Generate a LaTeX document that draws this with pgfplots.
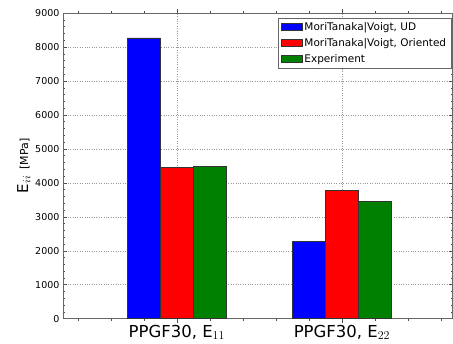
\documentclass[border=0pt]{standalone}
\usepackage{pgfplots}
\pgfplotsset{compat=1.18}
\usepackage{fontspec}
\setmainfont{DejaVu Sans}
\begin{document}
\begin{tikzpicture}
\begin{axis}[
  name=ax,
  scale only axis,
  width=390pt, height=306pt,
  xmin=0.31, xmax=2.67,
  ymin=0, ymax=9000,
  ytick={0,1000,...,9000},
  minor y tick num=4,
  xtick={1,2},
  xticklabels={{PPGF30, E$_{11}$}, {PPGF30, E$_{22}$}},
  minor xtick={0.4,0.6,0.8,1.2,1.4,1.6,1.8,2.2,2.4,2.6},
  tick align=inside,
  major tick length=4pt,
  minor tick length=2pt,
  every tick/.style={black!70},
  axis line style={black!60},
  scaled y ticks=false,
  /pgf/number format/assume math mode=true,
  /pgf/number format/1000 sep={},
  yticklabel style={font=\fontsize{9.5}{10}\selectfont},
  xticklabel style={font=\fontsize{16.5}{18}\selectfont, yshift=1pt},
  ylabel={{\fontsize{15}{16}\selectfont E$_{ii}$}\ \ {\fontsize{11}{12}\selectfont [MPa]}},
  ylabel style={yshift=-2pt},
  grid=major,
  major grid style={dotted, black!40},
  ybar, bar shift=0pt, bar width=0.2,
  legend style={at={(0.997,0.985)}, anchor=north east, font=\fontsize{10.5}{12}\selectfont, draw=black!60, row sep=2.5pt, inner xsep=3pt, inner ysep=2.5pt},
  legend cell align=left,
  legend image code/.code={\draw[#1] (0cm,-0.1cm) rectangle (0.75cm,0.13cm);},
]
\addplot[fill=blue, draw=black!80, line width=0.4pt] coordinates {(0.8,8270) (1.8,2270)};
\addplot[fill=red, draw=black!80, line width=0.4pt] coordinates {(1.0,4450) (2.0,3780)};
\addplot[fill={rgb,255:red,0;green,128;blue,0}, draw=black!80, line width=0.4pt] coordinates {(1.2,4490) (2.2,3450)};
\legend{{MoriTanaka|Voigt, UD}, {MoriTanaka|Voigt, Oriented}, Experiment}
\end{axis}
\useasboundingbox ([xshift=-63pt,yshift=-23pt]ax.south west) rectangle ([yshift=13pt,xshift=0.5pt]ax.north east);
\end{tikzpicture}
\end{document}
